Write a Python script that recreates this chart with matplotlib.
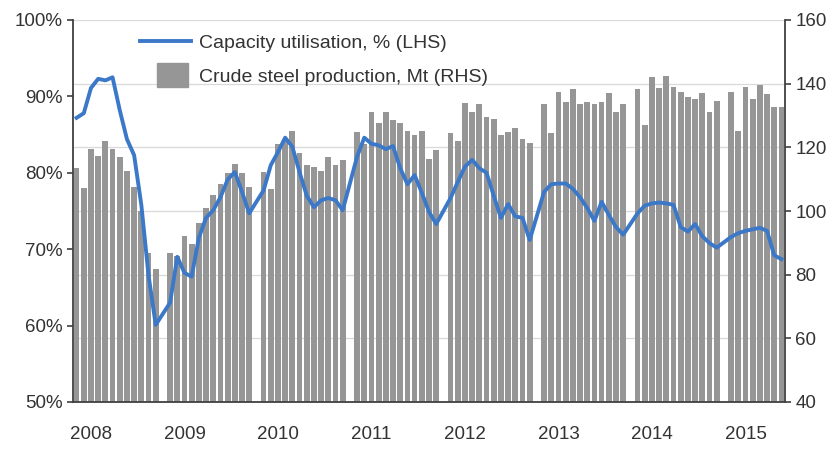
import numpy as np
import matplotlib.pyplot as plt
from matplotlib.lines import Line2D
from matplotlib.patches import Patch, Rectangle
from matplotlib.legend_handler import HandlerPatch

plt.rcParams['font.family'] = ['Liberation Sans', 'DejaVu Sans']

years = [2008, 2009, 2010, 2011, 2012, 2013, 2014, 2015]

# crude steel production, Mt (right axis), monthly
steel_2008 = [113.6, 107.2, 119.5, 117.4, 122.0, 119.5, 117.1, 112.6, 107.6, 100.0, 86.8, 81.8]
steel_2009 = [86.8, 86.0, 92.2, 89.6, 96.2, 100.9, 105.0, 108.5, 111.9, 114.8, 111.9, 107.5]
steel_2010 = [112.4, 106.9, 121.1, 122.5, 125.1, 118.3, 114.5, 113.9, 112.6, 117.1, 114.5, 116.0]
steel_2011 = [124.9, 121.0, 131.0, 127.6, 131.0, 128.6, 127.6, 125.1, 123.9, 125.1, 116.2, 119.2]
steel_2012 = [124.6, 122.1, 134.0, 131.0, 133.5, 129.4, 128.9, 123.9, 124.9, 126.0, 122.5, 121.5]
steel_2013 = [133.5, 124.4, 137.5, 134.3, 138.3, 133.5, 134.3, 133.5, 134.3, 137.0, 131.0, 133.5]
steel_2014 = [138.3, 127.0, 142.0, 138.5, 142.5, 139.1, 137.5, 135.9, 135.1, 137.0, 131.0, 134.6]
steel_2015 = [137.5, 125.1, 139.1, 135.1, 139.6, 136.6, 132.6, 132.6]

# capacity utilisation, % (left axis), monthly
util_2008 = [87.2, 87.8, 91.1, 92.3, 92.1, 92.5, 88.2, 84.4, 82.3, 75.8, 66.6, 60.1]
util_2009 = [63.0, 69.0, 66.9, 66.4, 71.5, 74.1, 75.1, 76.8, 79.1, 80.1, 77.5, 74.7]
util_2010 = [77.7, 81.0, 82.7, 84.6, 83.4, 80.1, 77.0, 75.5, 76.4, 76.7, 76.4, 75.1]
util_2011 = [82.1, 84.6, 83.8, 83.6, 83.1, 83.5, 80.6, 78.5, 79.7, 77.4, 74.9, 73.3]
util_2012 = [76.7, 78.8, 80.8, 81.7, 80.6, 80.0, 77.0, 74.1, 75.9, 74.3, 74.1, 71.2]
util_2013 = [77.5, 78.5, 78.6, 78.6, 77.9, 76.8, 75.4, 73.7, 76.2, 74.5, 72.9, 71.9]
util_2014 = [74.7, 75.7, 76.0, 76.1, 76.0, 75.8, 72.9, 72.3, 73.3, 71.7, 70.8, 70.2]
util_2015 = [71.6, 72.1, 72.4, 72.6, 72.8, 72.4, 69.2, 68.7]

steel = [steel_2008, steel_2009, steel_2010, steel_2011,
         steel_2012, steel_2013, steel_2014, steel_2015]
util = [util_2008, util_2009, util_2010, util_2011,
        util_2012, util_2013, util_2014, util_2015]

# each year = 12 month slots + one empty slot
x, s_vals, u_vals = [], [], []
for i, (s, u) in enumerate(zip(steel, util)):
    for m in range(len(s)):
        x.append(i * 13 + m)
        s_vals.append(s[m])
        u_vals.append(u[m])

text_col = '#333333'
axis_col = '#404040'

fig = plt.figure(figsize=(8.35, 4.51), dpi=100)
ax = fig.add_axes([73 / 835, 1 - 402 / 451, 712 / 835, 382 / 451])
ax2 = ax.twinx()

# bars on the main axes (right scale), line on the twin (left scale)
ax.bar(x, s_vals, width=0.8, color='#969696', zorder=2)
ax.set_ylim(40, 160)
ax.set_yticks(np.arange(40, 161, 20))
ax.yaxis.tick_right()
ax.yaxis.set_label_position('right')
ax.set_xlim(-0.5, 98.5)
ax.grid(axis='y', color='#d9d9d9', lw=0.9)
ax.set_axisbelow(True)

ax2.plot(x, u_vals, color='#3c78c8', lw=2.8, solid_joinstyle='round')
ax2.set_ylim(50, 100)
ax2.set_yticks(np.arange(50, 101, 10))
ax2.set_yticklabels([f'{v}%' for v in range(50, 101, 10)])
ax2.yaxis.tick_left()
ax2.yaxis.set_label_position('left')

for sp in ax2.spines.values():
    sp.set_visible(False)
ax.spines['top'].set_visible(False)
for k in ['left', 'right', 'bottom']:
    ax.spines[k].set_color(axis_col)
    ax.spines[k].set_linewidth(1.3)
ax.spines['left'].set_visible(True)

ax.set_xticks([i * 13 + 2 for i in range(len(years))])
ax.set_xticklabels([str(y) for y in years])
ax.tick_params(axis='x', length=0, pad=17, labelsize=13.5, labelcolor=text_col)
ax.tick_params(axis='y', direction='out', length=4.5, width=1.2, color=axis_col,
               pad=3, labelsize=13.5, labelcolor=text_col)
ax2.tick_params(axis='y', direction='out', length=4.5, width=1.2, color=axis_col,
                pad=3, labelsize=13.5, labelcolor=text_col)


def small_box(legend, orig_handle, xdescent, ydescent, width, height, fontsize):
    return Rectangle((-xdescent + 0.34 * width, -ydescent - 0.4 * height),
                     0.6 * width, 1.8 * height)


handles = [Line2D([], [], color='#3c78c8', lw=2.8),
           Patch(color='#969696')]
labels = ['Capacity utilisation, % (LHS)', 'Crude steel production, Mt (RHS)']
leg = fig.legend(handles, labels, loc='upper left',
                 bbox_to_anchor=(140 / 835, 1 - 34 / 451), frameon=False,
                 fontsize=14, handlelength=2.6, handletextpad=0.45,
                 borderpad=0, borderaxespad=0, labelspacing=0.85,
                 handler_map={Patch: HandlerPatch(patch_func=small_box)})
for t in leg.get_texts():
    t.set_color(text_col)

fig.savefig('out.png', dpi=100)
